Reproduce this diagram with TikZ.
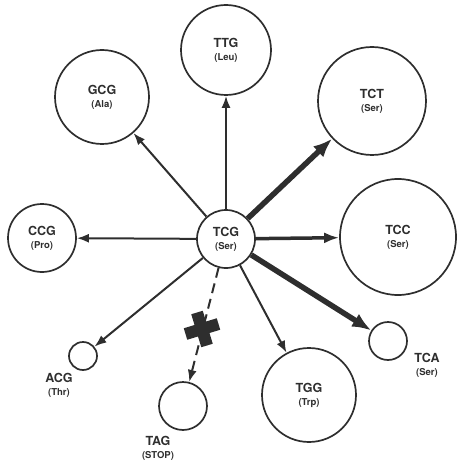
\documentclass[tikz,border=0pt]{standalone}
\usepackage{fontspec}
\setmainfont{TeX Gyre Heros}
\usetikzlibrary{arrows.meta,calc}

\definecolor{ink}{HTML}{2E2E2E}

\newcommand\codontext[2]{{\bfseries\fontsize{12.5}{12.5}\selectfont #1}\\[1pt]{\bfseries\fontsize{9.5}{9.5}\selectfont (#2)}}

\tikzset{
  codon/.style={circle, draw=ink, line width=1.7pt, inner sep=0pt, align=center, text=ink},
  tag/.style={align=center, text=ink, inner sep=0pt},
  thin arrow/.style={draw=ink, line width=2pt, -{Latex[length=12pt,width=9pt]}},
  mid arrow/.style={draw=ink, line width=3.5pt, -{Latex[length=15pt,width=11pt]}},
  bold arrow/.style={draw=ink, line width=5.5pt, -{Latex[length=19pt,width=15pt]}},
  stop arrow/.style={draw=ink, line width=2pt, dash pattern=on 10pt off 6pt, -{Latex[length=12pt,width=9pt]}},
}

\begin{document}
\begin{tikzpicture}[x=1pt, y=-1pt]
  \useasboundingbox (0,0) rectangle (457,470);

  % central codon and its single-base neighbours
  \node[codon, minimum size=58pt] (TCG) at (226,239) {\codontext{TCG}{Ser}};
  \node[codon, minimum size=90pt] (TTG) at (226,50)  {\codontext{TTG}{Leu}};
  \node[codon, minimum size=94pt] (GCG) at (102,97)  {\codontext{GCG}{Ala}};
  \node[codon, minimum size=108pt] (TCT) at (372,101) {\codontext{TCT}{Ser}};
  \node[codon, minimum size=116pt] (TCC) at (398,237) {\codontext{TCC}{Ser}};
  \node[codon, minimum size=68pt] (CCG) at (42,238)  {\codontext{CCG}{Pro}};
  \node[codon, minimum size=94pt] (TGG) at (309,395) {\codontext{TGG}{Trp}};

  % small circles with labels set beside them
  \node[codon, minimum size=28pt] (ACG) at (83,356) {};
  \node[codon, minimum size=48pt] (TAG) at (183,406) {};
  \node[codon, minimum size=38pt] (TCA) at (388,341) {};
  \node[tag] (ACGlab) at (59,385) {\codontext{ACG}{Thr}};
  \node[tag] (TAGlab) at (158,448) {\codontext{TAG}{STOP}};
  \node[tag] (TCAlab) at (427,365) {\codontext{TCA}{Ser}};

  % substitutions
  \draw[thin arrow] (TCG) -- (TTG);
  \draw[thin arrow] (TCG) -- (GCG);
  \draw[thin arrow] (TCG) -- (CCG);
  \draw[thin arrow] (TCG) -- (ACG);
  \draw[thin arrow] (TCG) -- (TGG);
  \draw[mid arrow]  (TCG) -- (TCC);
  \draw[bold arrow] (TCG) -- (TCT);
  \draw[bold arrow] (TCG) -- (TCA);
  \draw[stop arrow] (TCG) -- (TAG);

  % blocked path to the stop codon
  \coordinate (X) at (202,329);
  \draw[ink, line width=12pt] ($(X)+(-5,-16.5)$) -- ($(X)+(5,16.5)$);
  \draw[ink, line width=12pt] ($(X)+(16.5,-5)$) -- ($(X)+(-16.5,5)$);
\end{tikzpicture}
\end{document}
